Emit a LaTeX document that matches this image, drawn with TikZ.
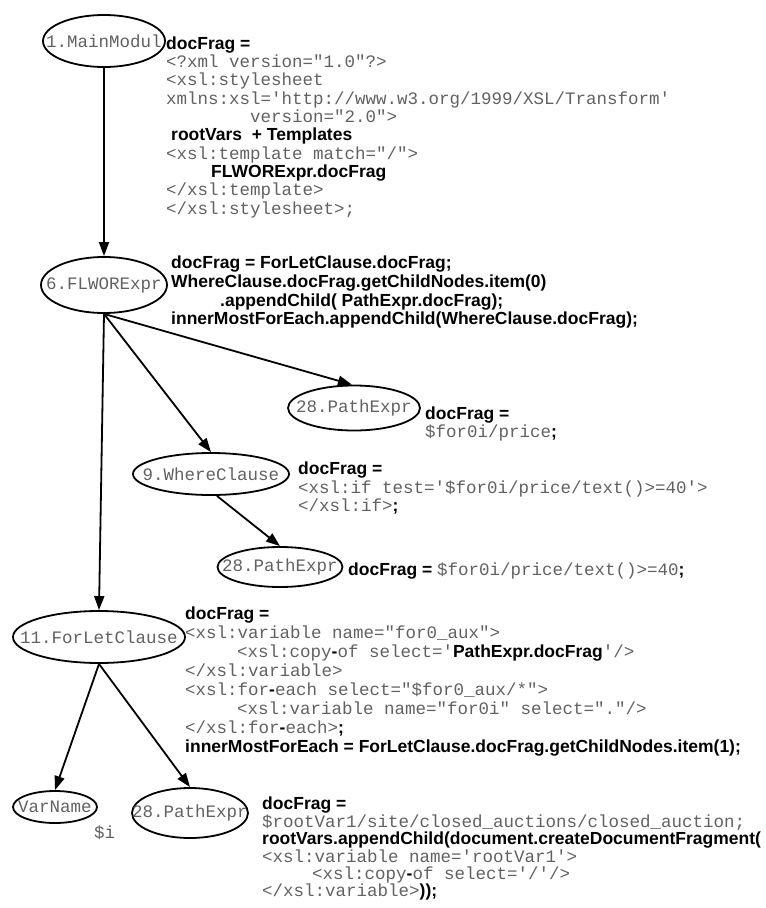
\documentclass[tikz,border=0pt]{standalone}
\usepackage{fontspec}
\usepackage{tikz}
\usetikzlibrary{arrows.meta,shapes.geometric}
\newfontfamily\codefont{Liberation Mono}[Ligatures=TeXOff]
\newfontfamily\fragsans{Liberation Sans}[Ligatures=TeXOff]
\definecolor{codegray}{gray}{0.38}
\newcommand{\kw}[1]{{\fragsans\bfseries\color{black}#1}}
\newcommand{\nodetext}[1]{\makebox[0pt]{#1}}
\tikzset{
  astnode/.style={
    ellipse,
    draw,
    line width=1.8pt,
    inner sep=0pt,
    text=codegray,
    font=\codefont\fontsize{17.5}{18}\selectfont
  },
  fragtext/.style={
    anchor=north west,
    inner sep=0pt,
    align=left,
    text=codegray,
    font=\codefont\fontsize{17.5}{#1}\selectfont
  },
  treeline/.style={-{Triangle[length=14pt,width=10pt]},line width=1.8pt}
}
\begin{document}
\begin{tikzpicture}[x=1pt,y=1pt]
  \useasboundingbox (0,0) rectangle (766,-908);
  \node[astnode, minimum width=122pt, minimum height=52pt] (mainmod) at (104,-41) {\nodetext{1.MainModul}};
  \node[astnode, minimum width=126pt, minimum height=56pt] (flwor) at (104,-285) {\nodetext{6.FLWORExpr}};
  \node[astnode, minimum width=132pt, minimum height=45pt] (pathtop) at (354,-408) {\nodetext{28.PathExpr}};
  \node[astnode, minimum width=156pt, minimum height=42pt] (where) at (211,-474) {\nodetext{9.WhereClause}};
  \node[astnode, minimum width=125pt, minimum height=40pt] (pathmid) at (280,-567) {\nodetext{28.PathExpr}};
  \node[astnode, minimum width=172pt, minimum height=52pt] (forlet) at (99,-637) {\nodetext{11.ForLetClause}};
  \node[astnode, minimum width=84pt, minimum height=32pt] (varname) at (55,-807) {\nodetext{VarName}};
  \node[astnode, minimum width=116pt, minimum height=50pt] (pathlow) at (190,-813) {\nodetext{28.PathExpr}};
  \node[fragtext=18.3] (mainfrag) at (166,-36.5) {\kw{docFrag =}\\
    <?xml version="1.0"?>\\
    <xsl:stylesheet\\
    xmlns:xsl='http://www.w3.org/1999/XSL/Transform'\\
    \hspace*{84pt}version="2.0">\\
    \hspace*{5pt}\kw{rootVars\ \ + Templates}\\
    <xsl:template match="/">\\
    \hspace*{45pt}\kw{FLWORExpr.docFrag}\\
    </xsl:template>\\
    </xsl:stylesheet>;};
  \node[fragtext=18.7] (flworfrag) at (171,-256) {\kw{docFrag = ForLetClause.docFrag;}\\
    \kw{WhereClause.docFrag.getChildNodes.item(0)}\\
    \hspace*{49pt}\kw{.appendChild( PathExpr.docFrag);}\\
    \kw{innerMostForEach.appendChild(WhereClause.docFrag);}};
  \node[fragtext=18] (pathtopfrag) at (425,-407) {\kw{docFrag =}\\
    \$for0i/price\kw{;}};
  \node[fragtext=18.5] (wherefrag) at (298,-462) {\kw{docFrag =}\\
    <xsl:if test='\$for0i/price/text()>=40'>\\
    </xsl:if>\kw{;}};
  \node[fragtext=18] (pathmidfrag) at (348,-563) {\kw{docFrag = }\$for0i/price/text()>=40\kw{;}};
  \node[fragtext=18.9] (forletfrag) at (185,-607) {\kw{docFrag =}\\
    <xsl:variable name="for0\_aux">\\
    \hspace*{52pt}<xsl:copy\kw{-}of select='\kw{PathExpr.docFrag}'/>\\
    </xsl:variable>\\
    <xsl:for\kw{-}each select="\$for0\_aux/*">\\
    \hspace*{52pt}<xsl:variable name="for0i" select="."/>\\
    </xsl:for\kw{-}each>\kw{;}\\
    \kw{innerMostForEach = ForLetClause.docFrag.getChildNodes.item(1);}};
  \node[fragtext=17.4] (pathlowfrag) at (262,-797) {\kw{docFrag =}\\
    \$rootVar1/site/closed\_auctions/closed\_auction;\\
    \kw{rootVars.appendChild(document.createDocumentFragment(}\\
    <xsl:variable name='rootVar1'>\\
    \hspace*{50pt}<xsl:copy\kw{-}of select='/'/>\\
    </xsl:variable>\kw{));}};
  \node[fragtext=18] (varval) at (94,-826) {\$i};
  \draw[treeline] (mainmod) -- (flwor);
  \draw[treeline] (flwor.south) -- (pathtop.95);
  \draw[treeline] (flwor.south) -- (where.north);
  \draw[treeline] (flwor.south) -- (forlet.north);
  \draw[treeline] (where.-75) -- (pathmid.north);
  \draw[treeline] (forlet.south) -- (varname.north);
  \draw[treeline] (forlet.south) -- (pathlow.north);
\end{tikzpicture}
\end{document}
